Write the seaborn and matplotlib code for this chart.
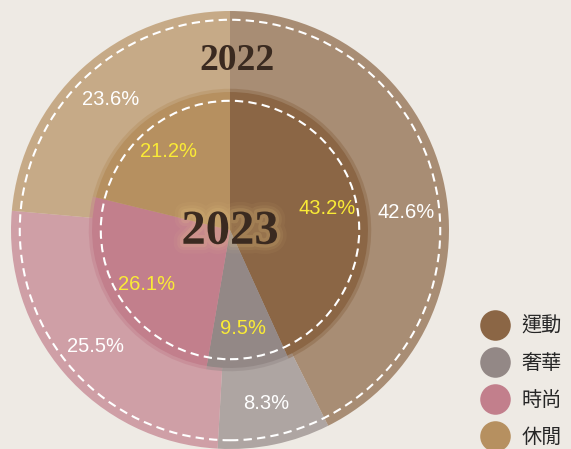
import matplotlib
matplotlib.use("Agg")
import matplotlib.pyplot as plt
import matplotlib.patheffects as pe
from matplotlib.lines import Line2D
import seaborn as sns

categories = ["運動", "奢華", "時尚", "休閒"]
share_2022 = [42.6, 8.3, 25.5, 23.6]
share_2023 = [43.2, 9.5, 26.1, 21.2]
colors = ["#8B6645", "#938886", "#C27F8C", "#B69060"]
bg = "#EEEAE4"

sns.set_theme(style="white")
plt.rcParams["font.family"] = ["Liberation Sans", "Noto Sans CJK TC", "DejaVu Sans"]

fig = plt.figure(figsize=(5.71, 4.49), dpi=100, facecolor=bg)
ax = fig.add_axes([11 / 571, 0, 438 / 571, 438 / 449])
ax.set_facecolor(bg)

# outer ring = 2022, drawn as a full translucent pie under the 2023 pie
_, _, outer_pcts = ax.pie(share_2022, radius=1.0, startangle=90, counterclock=False,
                          colors=colors, autopct="%.1f%%", pctdistance=0.81,
                          wedgeprops=dict(alpha=0.7, linewidth=0),
                          textprops=dict(color="white", fontsize=14.5))

# soft rim around the inner pie
ax.pie(share_2023, radius=0.645, startangle=90, counterclock=False, colors=colors,
       wedgeprops=dict(width=0.03, alpha=0.45, linewidth=0))

ax.pie(share_2023, radius=0.63, startangle=90, counterclock=False, colors=colors,
       autopct="%.1f%%", pctdistance=0.72,
       wedgeprops=dict(linewidth=0),
       textprops=dict(color="#FAEB36", fontsize=14.5))

# the 42.6% label sits a bit lower than the slice middle in the original
outer_pcts[0].set_position((0.81 * 0.995, 0.81 * 0.096))

dash = (0, (4, 2.5))
ax.add_patch(plt.Circle((0, 0), 0.96, fill=False, ec="white", lw=1.5, ls=dash, zorder=5))
ax.add_patch(plt.Circle((0, 0), 0.59, fill=False, ec="white", lw=1.5, ls=dash, zorder=5))

ax.text(0.032, 0.775, "2022", ha="center", va="center", fontsize=27,
        fontweight="bold", family=["Liberation Serif"], color="#3A2A20", zorder=6)
glow = (0.96, 0.84, 0.55)
ax.text(0.0, -0.008, "2023", ha="center", va="center", fontsize=35,
        fontweight="bold", family=["Liberation Serif"], color="#3A2A20", zorder=6,
        path_effects=[pe.Stroke(linewidth=14, foreground=glow, alpha=0.05),
                      pe.Stroke(linewidth=9, foreground=glow, alpha=0.08),
                      pe.Stroke(linewidth=5, foreground=glow, alpha=0.12),
                      pe.Normal()])

ax.set_xlim(-1, 1)
ax.set_ylim(-1, 1)
ax.set_aspect("equal")
ax.axis("off")

handles = [Line2D([], [], ls="", marker="o", markersize=22, markerfacecolor=c,
                  markeredgewidth=0) for c in colors]
fig.legend(handles, categories, loc="upper left", bbox_to_anchor=(480 / 571, 1 - 316 / 449),
           frameon=False, borderpad=0, borderaxespad=0, handlelength=1.5,
           handletextpad=0.55, labelspacing=0.8,
           prop=dict(family=["Noto Sans CJK TC"], size=14.5))

fig.savefig("out.png", dpi=100, facecolor=bg)
